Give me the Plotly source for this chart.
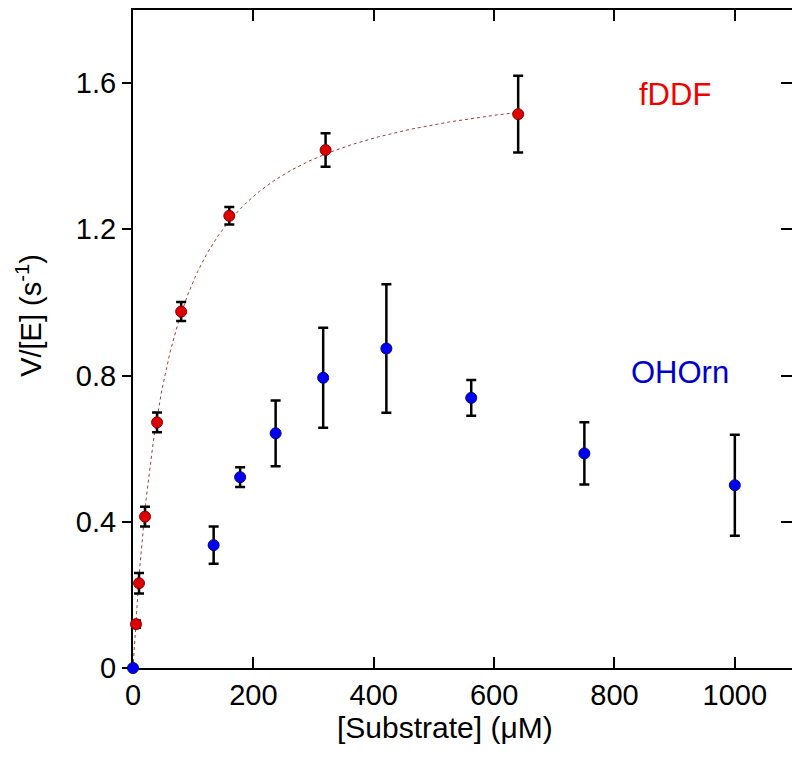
import numpy as np
import plotly.graph_objects as go

# fDDF data
fddf_x = [5, 10, 20, 40, 80, 160, 320, 640]
fddf_y = [0.12, 0.232, 0.414, 0.672, 0.975, 1.237, 1.417, 1.515]
fddf_err = [0.01, 0.028, 0.027, 0.027, 0.026, 0.024, 0.046, 0.105]

# OHOrn data
ohorn_x = [0, 134, 178, 237, 316, 421, 562, 750, 1000]
ohorn_y = [0.0, 0.336, 0.522, 0.642, 0.794, 0.874, 0.739, 0.587, 0.50]
ohorn_err = [0.0, 0.051, 0.027, 0.09, 0.137, 0.176, 0.049, 0.085, 0.138]

# Michaelis-Menten fit parameters for fDDF
vmax_fit = 1.654
km_fit = 56.4

x_ticks = [0, 200, 400, 600, 800, 1000]
y_ticks = [0, 0.4, 0.8, 1.2, 1.6]

FONT = "Liberation Sans, Arial, sans-serif"

s_fit = np.linspace(0, max(fddf_x), 400)
v_fit = vmax_fit * s_fit / (km_fit + s_fit)

fig = go.Figure()
fig.add_trace(go.Scatter(x=s_fit, y=v_fit, mode="lines",
                         line=dict(color="#a03a3a", width=1, dash="dot"),
                         hoverinfo="skip", showlegend=False))
fig.add_trace(go.Scatter(x=fddf_x, y=fddf_y, mode="markers", cliponaxis=False,
                         marker=dict(size=11, color="#dd0000", line=dict(color="#8a0000", width=1)),
                         error_y=dict(type="data", array=fddf_err, visible=True,
                                      color="black", thickness=2.5, width=5),
                         showlegend=False))
fig.add_trace(go.Scatter(x=ohorn_x, y=ohorn_y, mode="markers", cliponaxis=False,
                         marker=dict(size=11, color="#0000ee", line=dict(color="#00008a", width=1)),
                         error_y=dict(type="data", array=ohorn_err, visible=True,
                                      color="black", thickness=2.5, width=5),
                         showlegend=False))

# invisible trace for the top/right inside-tick axes
fig.add_trace(go.Scatter(x=[None], y=[None], xaxis="x2", yaxis="y2", showlegend=False))

fig.add_annotation(x=0.8225, y=0.871, xref="paper", yref="paper", text="fDDF",
                   xanchor="center", yanchor="middle",
                   showarrow=False, font=dict(family=FONT, size=31, color="#ee0000"))
fig.add_annotation(x=0.830, y=0.449, xref="paper", yref="paper", text="OHOrn",
                   xanchor="center", yanchor="middle",
                   showarrow=False, font=dict(family=FONT, size=31, color="#0000cc"))

# axis titles
fig.add_annotation(x=0.473, y=-0.091, xref="paper", yref="paper", text="[Substrate] (μM)",
                   xanchor="center", yanchor="middle", showarrow=False,
                   font=dict(family=FONT, size=30, color="black"))
fig.add_annotation(x=-0.157, y=0.536, xref="paper", yref="paper", text="V/[E] (s<sup>-1</sup>)",
                   textangle=-90, xanchor="center", yanchor="middle", showarrow=False,
                   font=dict(family=FONT, size=29, color="black"))

axis_common = dict(showgrid=False, zeroline=False, linecolor="black", linewidth=2,
                   tickcolor="black", tickwidth=1.5, showline=True, automargin=False,
                   layer="below traces")

# page body adds an 8px offset; size the figure so the frame lands where the reference has it
fig.update_layout(
    width=792, height=752,
    margin=dict(l=125, r=8, t=2, b=92, autoexpand=False),
    paper_bgcolor="white", plot_bgcolor="white",
    font=dict(family=FONT, size=29, color="black"),
    xaxis=dict(range=[0, 1095], tickvals=x_ticks, ticks="inside", ticklen=11,
               **axis_common),
    yaxis=dict(range=[0, 1.8], tickvals=y_ticks, ticks="outside", ticklen=9,
               **axis_common),
    xaxis2=dict(range=[0, 1095], tickvals=x_ticks, ticks="inside", ticklen=11,
                overlaying="x", side="top", showticklabels=False, **axis_common),
    yaxis2=dict(range=[0, 1.8], tickvals=y_ticks, ticks="inside", ticklen=11,
                overlaying="y", side="right", showticklabels=False, **axis_common),
)

fig.write_html("out.html")
